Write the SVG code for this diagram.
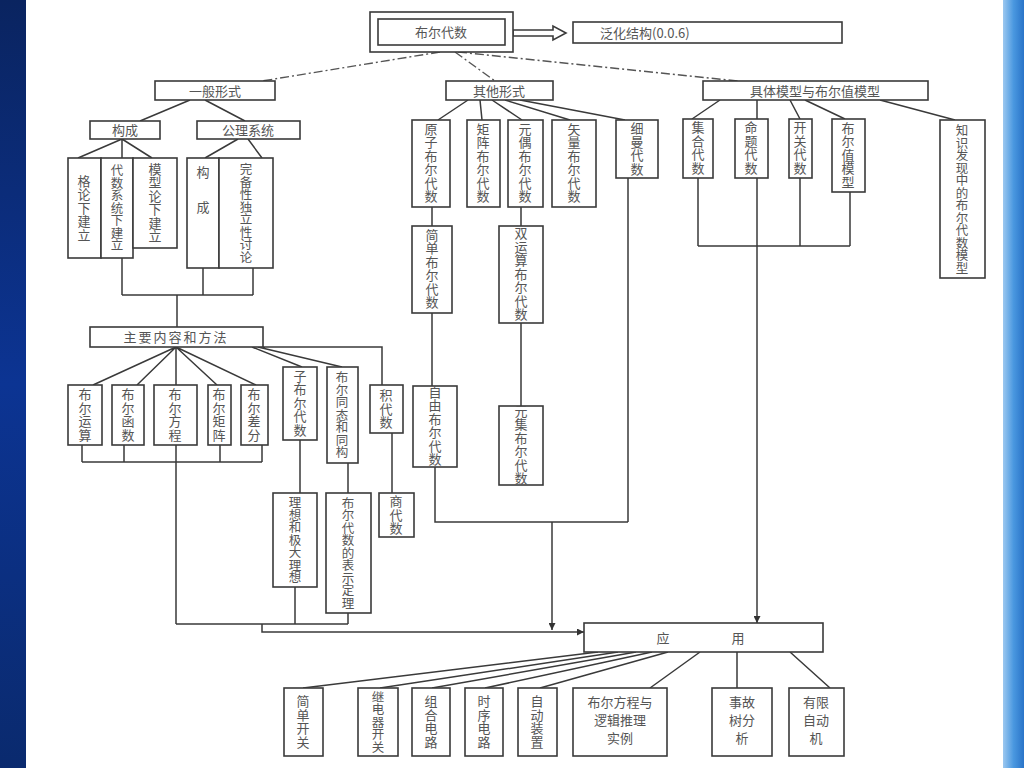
<svg xmlns="http://www.w3.org/2000/svg" width="1024" height="768" viewBox="0 0 1024 768">
<defs>
<linearGradient id="lb" x1="0" y1="0" x2="0" y2="1"><stop offset="0" stop-color="#0a2460"/><stop offset="0.5" stop-color="#0c3493"/><stop offset="1" stop-color="#0a2a6e"/></linearGradient>
<linearGradient id="rb" x1="0" y1="0" x2="1" y2="0"><stop offset="0" stop-color="#9cc8f0"/><stop offset="0.5" stop-color="#4a98e0"/><stop offset="1" stop-color="#2a74c8"/></linearGradient>
<marker id="ar" viewBox="0 0 10 10" refX="10" refY="5" markerWidth="7" markerHeight="7" orient="auto" markerUnits="userSpaceOnUse"><path d="M0,0 L10,5 L0,10 z" fill="#333"/></marker>
<style>
.box{fill:#fff;stroke:#3a3a3a;stroke-width:1.6}
.ln{fill:none;stroke:#3a3a3a;stroke-width:1.5}
.dd{fill:none;stroke:#555;stroke-width:1.4;stroke-dasharray:9 3 2 3}
.t{font-family:"Noto Sans CJK SC","Noto Sans",sans-serif;font-size:13px;fill:#555;text-anchor:middle}
.v{writing-mode:vertical-rl;letter-spacing:0.5px}
.vt{writing-mode:vertical-rl;letter-spacing:0px;font-size:12.5px}
</style>
</defs>
<rect width="1024" height="768" fill="#fff"/>
<rect x="0" y="0" width="26" height="768" fill="url(#lb)"/>
<rect x="1003" y="0" width="21" height="768" fill="url(#rb)"/>

<g id="connectors">
<path class="dd" d="M440,52 L262,81 M455,52 L495,81 M458,52 L738,81"/>
<path class="box" d="M513,30 H553 V26 L566,33 L553,40 V36 H513 Z"/>
<path class="ln" d="M190,100 L140,121 M205,100 L245,121"/>
<path class="ln" d="M122,139 L78,158 M122,139 V158 M122,139 L152,158 M238,139 L205,158 M248,139 L262,158"/>
<path class="ln" d="M122,258 V295 M203,268 V295 M253,268 V295 M122,295 H253 M177,295 V327"/>
<path class="ln" d="M176,347 L93,385 M176,347 L137,385 M176,347 V624 M176,347 L217,385 M176,347 L256,385"/>
<path class="ln" d="M252,347 L302,367 M258,347 L342,367 M263,347 H382 V385"/>
<path class="ln" d="M82,445 V462 M124,445 V462 M220,445 V462 M262,445 V462 M82,462 H262"/>
<path class="ln" d="M300,440 V493 M348,463 V493 M392,433 V493 M295,587 V624 M348,613 V624 M176,624 H348"/>
<path class="ln" d="M262,624 V632 H584" marker-end="url(#ar)"/>
<path class="ln" d="M468,100 L438,120 M480,100 L482,120 M492,100 L522,120 M505,100 L570,120 M520,100 L625,120"/>
<path class="ln" d="M432,207 V226 M432,313 V386 M435,467 V522 H628 M628,178 V522 M521,207 V226 M521,323 V406"/>
<path class="ln" d="M552,522 V630" marker-end="url(#ar)"/>
<path class="ln" d="M720,100 L692,119 M757,100 V119 M790,100 L800,119 M805,100 L845,119 M880,100 L955,120"/>
<path class="ln" d="M698,178 V246 M800,178 V246 M850,192 V246 M698,246 H850"/>
<path class="ln" d="M757,178 V623" marker-end="url(#ar)"/>
<path class="ln" d="M598,652 L303,688 M618,652 L380,688 M636,652 L432,688 M652,652 L485,688 M668,652 L540,688 M700,652 L650,688 M737,652 V688 M790,652 L830,688"/>
</g>

<g id="n-root"><rect class="box" x="370" y="12" width="143" height="40"/><rect class="box" x="378" y="19" width="127" height="26"/><text class="t" x="441" y="37" font-size="14">布尔代数</text></g>
<g id="n-fanhua"><rect class="box" x="573" y="22" width="269" height="21"/><text class="t" x="600" y="38" style="text-anchor:start">泛化结构(0.0.6)</text></g>

<g id="n-yiban"><rect class="box" x="155" y="81" width="120" height="19"/><text class="t" x="215" y="96">一般形式</text></g>
<g id="n-qita"><rect class="box" x="446" y="81" width="107" height="19"/><text class="t" x="499" y="96">其他形式</text></g>
<g id="n-juti"><rect class="box" x="703" y="81" width="225" height="19"/><text class="t" x="815" y="96">具体模型与布尔值模型</text></g>

<g id="n-goucheng"><rect class="box" x="90" y="121" width="70" height="18"/><text class="t" x="125" y="135">构成</text></g>
<g id="n-gongli"><rect class="box" x="197" y="121" width="103" height="18"/><text class="t" x="248" y="135">公理系统</text></g>
<g id="n-gelun"><rect class="box" x="68" y="158" width="33" height="100"/><text class="t v" x="84" y="208">格论下建立</text></g>
<g id="n-daishu"><rect class="box" x="101" y="158" width="32" height="100"/><text class="t vt" x="117" y="208">代数系统下建立</text></g>
<g id="n-moxing"><rect class="box" x="133" y="158" width="44" height="90"/><text class="t v" x="155" y="203">模型论下建立</text></g>
<g id="n-goucheng2"><rect class="box" x="187" y="158" width="32" height="110"/><text class="t"><tspan x="203" y="177">构</tspan><tspan x="203" y="212">成</tspan></text></g>
<g id="n-wanbei"><rect class="box" x="219" y="158" width="54" height="110"/><text class="t vt" x="246" y="213">完备性独立性讨论</text></g>

<g id="n-zhuyao"><rect class="box" x="90" y="327" width="173" height="20"/><text class="t" x="176" y="342" style="letter-spacing:2px">主要内容和方法</text></g>
<g id="n-yunsuan"><rect class="box" x="68" y="385" width="34" height="60"/><text class="t v" x="85" y="415">布尔运算</text></g>
<g id="n-hanshu"><rect class="box" x="112" y="385" width="32" height="60"/><text class="t v" x="128" y="415">布尔函数</text></g>
<g id="n-fangcheng"><rect class="box" x="154" y="385" width="43" height="60"/><text class="t v" x="175" y="415">布尔方程</text></g>
<g id="n-juzhen"><rect class="box" x="208" y="385" width="23" height="60"/><text class="t v" x="219" y="415">布尔矩阵</text></g>
<g id="n-chafen"><rect class="box" x="241" y="385" width="27" height="60"/><text class="t v" x="254" y="415">布尔差分</text></g>
<g id="n-zibuer"><rect class="box" x="283" y="367" width="34" height="73"/><text class="t v" x="300" y="403">子布尔代数</text></g>
<g id="n-tongtai"><rect class="box" x="327" y="367" width="31" height="96"/><text class="t vt" x="342" y="415">布尔同态和同构</text></g>
<g id="n-ji"><rect class="box" x="370" y="385" width="33" height="48"/><text class="t v" x="386" y="409">积代数</text></g>
<g id="n-lixiang"><rect class="box" x="273" y="493" width="44" height="94"/><text class="t vt" x="295" y="540">理想和极大理想</text></g>
<g id="n-biaoshi"><rect class="box" x="326" y="493" width="45" height="120"/><text class="t vt" x="348" y="553">布尔代数的表示定理</text></g>
<g id="n-shang"><rect class="box" x="379" y="493" width="35" height="44"/><text class="t v" x="396" y="515">商代数</text></g>

<g id="n-yuanzi"><rect class="box" x="412" y="120" width="38" height="87"/><text class="t v" x="431" y="163">原子布尔代数</text></g>
<g id="n-juzhenba"><rect class="box" x="467" y="120" width="33" height="87"/><text class="t v" x="483" y="163">矩阵布尔代数</text></g>
<g id="n-yuanou"><rect class="box" x="508" y="120" width="35" height="87"/><text class="t v" x="525" y="163">元偶布尔代数</text></g>
<g id="n-shiliang"><rect class="box" x="552" y="120" width="44" height="87"/><text class="t v" x="574" y="163">矢量布尔代数</text></g>
<g id="n-ximan"><rect class="box" x="616" y="120" width="42" height="58"/><text class="t v" x="637" y="149">细曼代数</text></g>
<g id="n-jiandan"><rect class="box" x="412" y="226" width="40" height="87"/><text class="t v" x="432" y="269">简单布尔代数</text></g>
<g id="n-shuangyun"><rect class="box" x="499" y="226" width="44" height="97"/><text class="t v" x="521" y="274">双运算布尔代数</text></g>
<g id="n-ziyou"><rect class="box" x="413" y="386" width="44" height="81"/><text class="t v" x="435" y="426">自由布尔代数</text></g>
<g id="n-yuanji"><rect class="box" x="499" y="406" width="44" height="79"/><text class="t v" x="521" y="445">元集布尔代数</text></g>

<g id="n-jihe"><rect class="box" x="683" y="119" width="30" height="59"/><text class="t v" x="698" y="148">集合代数</text></g>
<g id="n-mingti"><rect class="box" x="735" y="119" width="33" height="59"/><text class="t v" x="751" y="148">命题代数</text></g>
<g id="n-kaiguan"><rect class="box" x="789" y="119" width="23" height="59"/><text class="t v" x="800" y="148">开关代数</text></g>
<g id="n-buerzhi"><rect class="box" x="832" y="119" width="33" height="73"/><text class="t v" x="848" y="155">布尔值模型</text></g>
<g id="n-zhishi"><rect class="box" x="940" y="120" width="45" height="158"/><text class="t vt" x="962" y="199">知识发现中的布尔代数模型</text></g>

<g id="n-yingyong"><rect class="box" x="584" y="623" width="239" height="29"/><text class="t" font-size="14"><tspan x="663" y="643">应</tspan><tspan x="738" y="643">用</tspan></text></g>
<g id="n-jdkg"><rect class="box" x="284" y="688" width="39" height="68"/><text class="t v" x="303" y="722">简单开关</text></g>
<g id="n-jdqkg"><rect class="box" x="358" y="688" width="40" height="68"/><text class="t vt" x="378" y="722">继电器开关</text></g>
<g id="n-zhdl"><rect class="box" x="412" y="688" width="38" height="68"/><text class="t v" x="431" y="722">组合电路</text></g>
<g id="n-sxdl"><rect class="box" x="465" y="688" width="38" height="68"/><text class="t v" x="484" y="722">时序电路</text></g>
<g id="n-zdzz"><rect class="box" x="518" y="688" width="39" height="68"/><text class="t v" x="537" y="722">自动装置</text></g>
<g id="n-bcfc"><rect class="box" x="573" y="688" width="94" height="68"/><text class="t"><tspan x="620" y="707">布尔方程与</tspan><tspan x="620" y="725">逻辑推理</tspan><tspan x="620" y="743">实例</tspan></text></g>
<g id="n-sgs"><rect class="box" x="712" y="688" width="60" height="68"/><text class="t"><tspan x="742" y="707">事故</tspan><tspan x="742" y="725">树分</tspan><tspan x="742" y="743">析</tspan></text></g>
<g id="n-yxzd"><rect class="box" x="789" y="688" width="55" height="68"/><text class="t"><tspan x="816" y="707">有限</tspan><tspan x="816" y="725">自动</tspan><tspan x="816" y="743">机</tspan></text></g>
</svg>
